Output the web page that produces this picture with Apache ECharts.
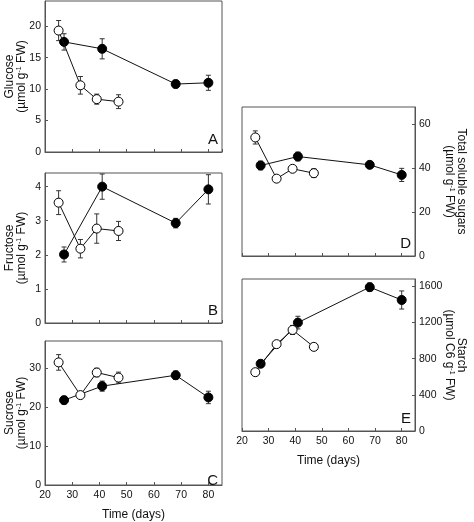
<!DOCTYPE html>
<html><head><meta charset="utf-8">
<script src="https://cdn.jsdelivr.net/npm/echarts@6/dist/echarts.min.js"></script>
<style>html,body{margin:0;padding:0;background:#fff}#c{width:474px;height:522px}</style>
</head><body><div id="c"></div>
<script>
const daysOpen = [25, 33, 39, 47];
const daysFilled = [27, 41, 68, 80];

const glucoseOpen = [19.3, 10.6, 8.4, 8.0];
const glucoseOpenErr = [1.6, 1.4, 0.8, 1.1];
const glucoseFilled = [17.5, 16.4, 10.8, 11.0];
const glucoseFilledErr = [1.3, 1.6, 0.6, 1.2];

const fructoseOpen = [3.53, 2.18, 2.77, 2.70];
const fructoseOpenErr = [0.35, 0.27, 0.43, 0.28];
const fructoseFilled = [2.01, 4.0, 2.93, 3.92];
const fructoseFilledErr = [0.22, 0.37, 0.14, 0.43];

const sucroseOpen = [31.5, 23.1, 28.9, 27.6];
const sucroseOpenErr = [2.0, 0.5, 1.1, 1.4];
const sucroseFilled = [21.8, 25.4, 28.2, 22.5];
const sucroseFilledErr = [1.0, 1.3, 1.1, 1.6];

const totalOpen = [54.1, 35.3, 39.8, 37.8];
const totalOpenErr = [3.0, 1.0, 1.5, 2.0];
const totalFilled = [41.3, 45.4, 41.6, 37.0];
const totalFilledErr = [2.0, 2.0, 1.0, 3.0];

const starchOpen = [650, 960, 1117, 930];
const starchOpenErr = [20, 30, 50, 35];
const starchFilled = [743, 1198, 1590, 1448];
const starchFilledErr = [40, 70, 45, 100];

const panelLetters = ['A', 'B', 'C', 'D', 'E'];
const yNames = [
  ['Glucose', '(µmol g', '-1', ' FW)'],
  ['Fructose', '(µmol g', '-1', ' FW)'],
  ['Sucrose', '(µmol g', '-1', ' FW)'],
  ['Total soluble sugars', '(µmol g', '-1', ' FW)'],
  ['Starch', '(µmol C6 g', '-1', ' FW)']
];
const xName = 'Time (days)';

const FONT = 'Liberation Sans, Arial, sans-serif';
const AX = '#555';

const grids = [
  {left: 45, top: 1, width: 177, height: 151},
  {left: 45, top: 173, width: 177, height: 150},
  {left: 45, top: 341, width: 177, height: 152},
  {left: 242, top: 107, width: 173, height: 149},
  {left: 242, top: 279, width: 173, height: 152}
];
const yCfg = [
  {min: 0, max: 24, interval: 5, pos: 'left'},
  {min: 0, max: 4.4, interval: 1, pos: 'left'},
  {min: 0, max: 37, interval: 10, pos: 'left'},
  {min: 0, max: 68, interval: 20, pos: 'right'},
  {min: 0, max: 1680, interval: 400, pos: 'right'}
];
const showX = [false, false, true, false, true];

const chart = echarts.init(document.getElementById('c'), null, {renderer: 'canvas'});

const xAxis = grids.map((g, i) => ({
  type: 'value', gridIndex: i, min: 20, max: 85, interval: 10,
  axisLine: {show: true, lineStyle: {color: AX, width: 1}},
  axisTick: {show: true, inside: true, length: 3, lineStyle: {color: AX}},
  splitLine: {show: false},
  axisLabel: {show: showX[i], showMaxLabel: false, fontSize: 10.5, color: '#111', fontFamily: FONT, margin: 5},
  name: showX[i] ? xName : '', nameLocation: 'middle', nameGap: 24, nameMoveOverlap: false,
  nameTextStyle: {fontSize: 12, color: '#111', fontFamily: FONT}
}));

const yAxis = yCfg.map((c, i) => {
  const n = yNames[i];
  const right = c.pos === 'right';
  return {
    type: 'value', gridIndex: i, min: c.min, max: c.max, interval: c.interval, position: c.pos,
    axisLine: {show: true, lineStyle: {color: AX, width: 1}},
    axisTick: {show: true, inside: true, length: 3, lineStyle: {color: AX}},
    splitLine: {show: false},
    axisLabel: {showMaxLabel: false, fontSize: 10.5, color: '#111', fontFamily: FONT, margin: 4,
      formatter: v => String(v)},
    name: '{a|' + n[0] + '}\n{a|' + n[1] + '}{s|' + n[2] + '}{a|' + n[3] + '}',
    nameLocation: 'middle', nameRotate: right ? -90 : 90, nameGap: right ? 28 : 17,
    nameMoveOverlap: false,
    nameTextStyle: {
      fontFamily: FONT, color: '#111', lineHeight: 12.5,
      rich: {
        a: {fontSize: 12, fontFamily: FONT, color: '#111', lineHeight: 12.5},
        s: {fontSize: 7, fontFamily: FONT, color: '#111', padding: [0, 0, 6, 0], lineHeight: 12.5}
      }
    }
  };
});

function errItem(params, api) {
  const x = api.value(0), y = api.value(1), e = api.value(2);
  const t = api.coord([x, y + e]);
  const b = api.coord([x, y - e]);
  const cap = 2.5;
  const st = {stroke: '#333', lineWidth: 1};
  return {type: 'group', children: [
    {type: 'line', shape: {x1: t[0], y1: t[1], x2: b[0], y2: b[1]}, style: st},
    {type: 'line', shape: {x1: t[0] - cap, y1: t[1], x2: t[0] + cap, y2: t[1]}, style: st},
    {type: 'line', shape: {x1: b[0] - cap, y1: b[1], x2: b[0] + cap, y2: b[1]}, style: st}
  ]};
}

const sets = [
  [glucoseOpen, glucoseOpenErr, glucoseFilled, glucoseFilledErr],
  [fructoseOpen, fructoseOpenErr, fructoseFilled, fructoseFilledErr],
  [sucroseOpen, sucroseOpenErr, sucroseFilled, sucroseFilledErr],
  [totalOpen, totalOpenErr, totalFilled, totalFilledErr],
  [starchOpen, starchOpenErr, starchFilled, starchFilledErr]
];

const series = [];
sets.forEach((s, i) => {
  const [ov, oe, fv, fe] = s;
  series.push({type: 'custom', xAxisIndex: i, yAxisIndex: i, renderItem: errItem, z: 1,
    data: daysFilled.map((d, k) => [d, fv[k], fe[k]]), silent: true});
  series.push({type: 'custom', xAxisIndex: i, yAxisIndex: i, renderItem: errItem, z: 1,
    data: daysOpen.map((d, k) => [d, ov[k], oe[k]]), silent: true});
  series.push({type: 'line', xAxisIndex: i, yAxisIndex: i, z: 3,
    data: daysFilled.map((d, k) => [d, fv[k]]),
    symbol: 'circle', symbolSize: 9, showSymbol: true,
    lineStyle: {color: '#111', width: 1}, itemStyle: {color: '#000', borderColor: '#000', borderWidth: 1}});
  series.push({type: 'line', xAxisIndex: i, yAxisIndex: i, z: 4,
    data: daysOpen.map((d, k) => [d, ov[k]]),
    symbol: 'circle', symbolSize: 9, showSymbol: true,
    lineStyle: {color: '#111', width: 1}, itemStyle: {color: '#fff', borderColor: '#000', borderWidth: 1}});
});

const graphic = grids.map((g, i) => ({
  type: 'text', right: 474 - (g.left + g.width) + 4, top: g.top + g.height - 20,
  style: {text: panelLetters[i], fontSize: 15, fontFamily: FONT, fill: '#111'}
}));

chart.setOption({
  animation: false,
  backgroundColor: '#fff',
  grid: grids.map(g => Object.assign({show: true, borderColor: AX, borderWidth: 1, backgroundColor: 'transparent'}, g)),
  xAxis, yAxis, series, graphic
});
</script></body></html>
